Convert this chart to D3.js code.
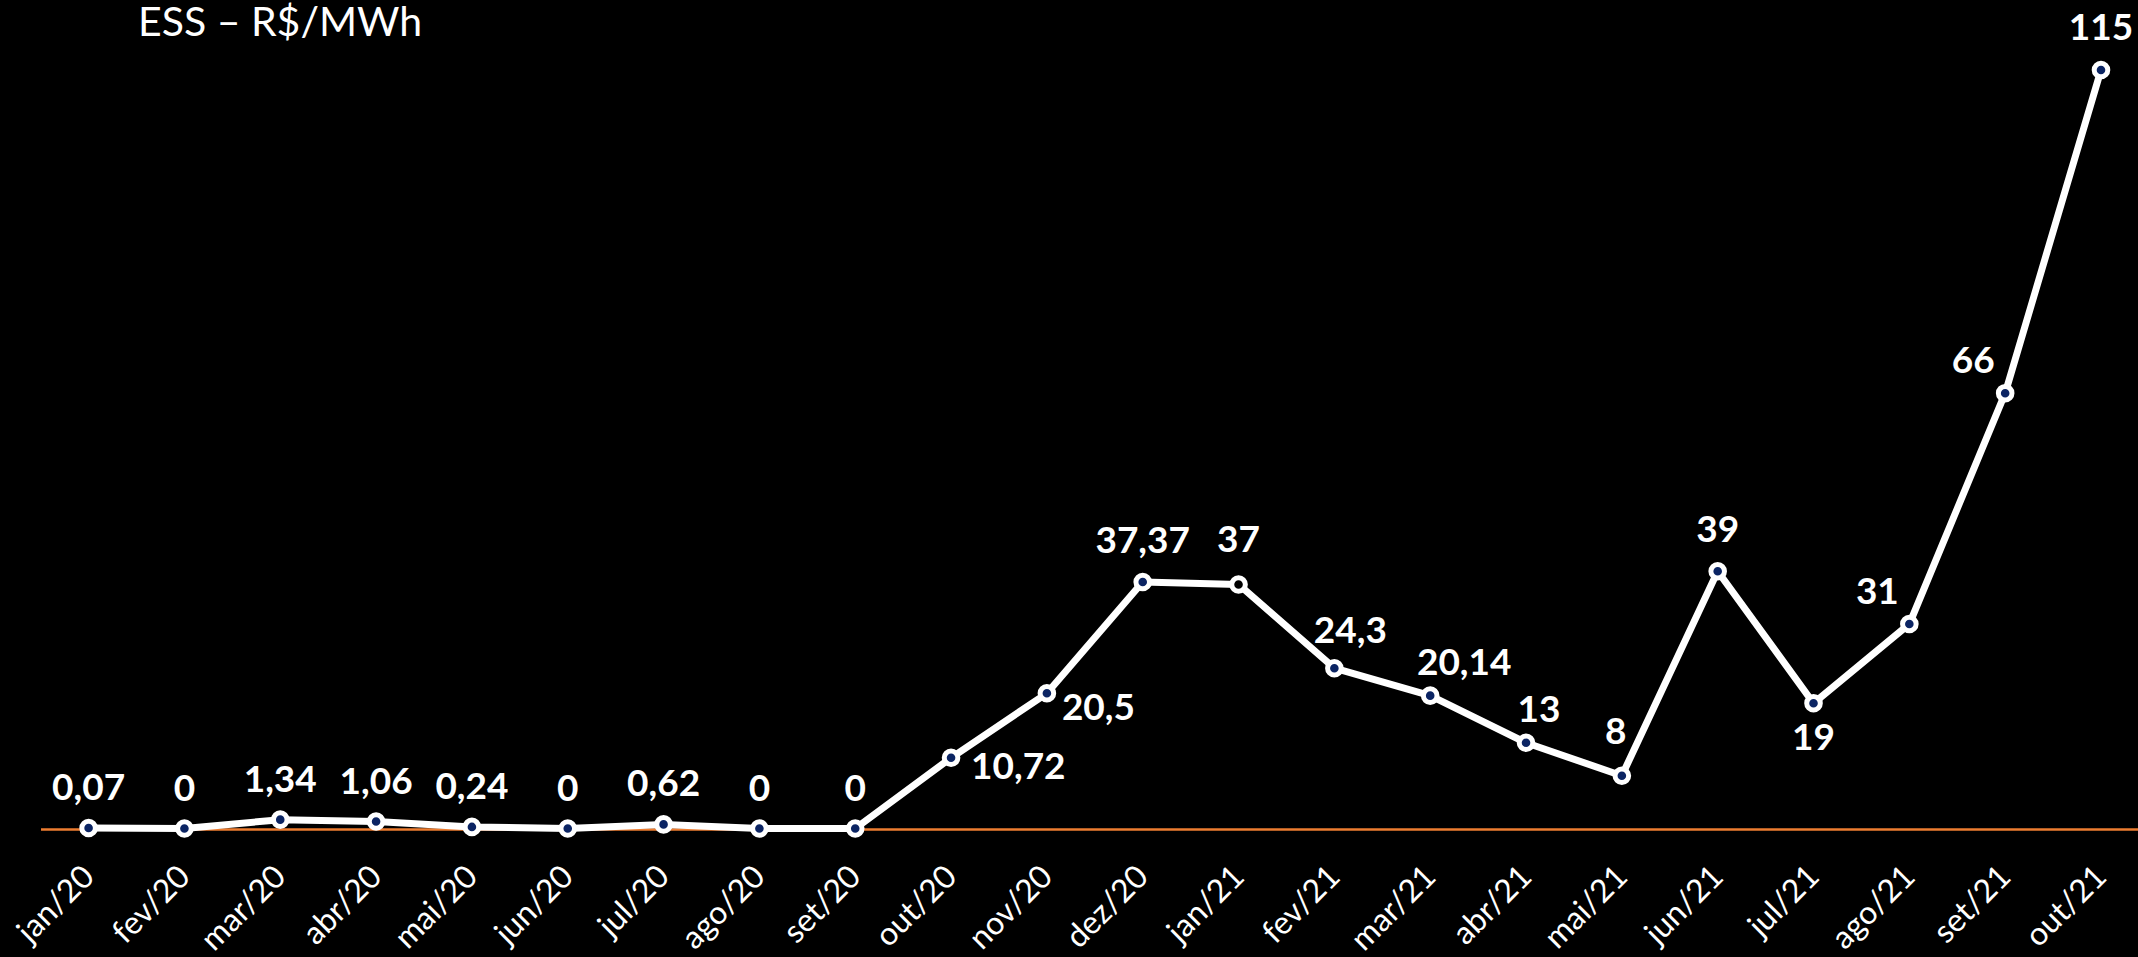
<!DOCTYPE html>
<html>
<head>
<meta charset="utf-8">
<script src="https://cdn.jsdelivr.net/npm/d3@7"></script>
<style>
  html, body { margin: 0; padding: 0; background: #000; }
  svg { display: block; }
</style>
</head>
<body>
<svg id="chart" width="2138" height="957"></svg>
<script>
// ---- data ----
const months = ["jan/20","fev/20","mar/20","abr/20","mai/20","jun/20","jul/20","ago/20","set/20","out/20","nov/20","dez/20",
                "jan/21","fev/21","mar/21","abr/21","mai/21","jun/21","jul/21","ago/21","set/21","out/21"];
const essValues = [0.07, 0, 1.34, 1.06, 0.24, 0, 0.62, 0, 0, 10.72, 20.5, 37.37,
                   37, 24.3, 20.14, 13, 8, 39, 19, 31, 66, 115];
const valueLabels = ["0,07","0","1,34","1,06","0,24","0","0,62","0","0","10,72","20,5","37,37",
                     "37","24,3","20,14","13","8","39","19","31","66","115"];
const titleText = "ESS – R$/MWh";

// label placement (offsets from each point: [dx, dy, anchor])
const labelPlacement = [
  [0,-28,"middle"],[0,-28,"middle"],[0,-28,"middle"],[0,-28,"middle"],[0,-28,"middle"],[0,-28,"middle"],
  [0,-28,"middle"],[0,-28,"middle"],[0,-28,"middle"],[20,21,"start"],[15,27,"start"],[0,-29,"middle"],
  [0,-32,"middle"],[16,-25,"middle"],[34,-21,"middle"],[13,-21,"middle"],[-6,-32,"middle"],[0,-29,"middle"],
  [0,47,"middle"],[-32,-20,"middle"],[-32,-20,"middle"],[0,-30,"middle"]
];

// ---- drawing ----
const svg = d3.select("#chart");
const x = d3.scalePoint().domain(months).range([88.6, 2101]);
const y = d3.scaleLinear().domain([0, 115]).range([828.5, 70]);

// title
svg.append("text")
  .attr("x", 138).attr("y", 36)
  .attr("fill", "#fff")
  .attr("font-family", "Lato, 'Open Sans', sans-serif")
  .attr("font-size", 41)
  .text(titleText);

// x axis (orange baseline)
svg.append("line")
  .attr("x1", 41).attr("x2", 2138)
  .attr("y1", y(0) + 1).attr("y2", y(0) + 1)
  .attr("stroke", "#ED7D31").attr("stroke-width", 2.5);

// x tick labels
const xAxis = d3.axisBottom(x).tickSize(0).tickPadding(0);
const gx = svg.append("g").attr("transform", `translate(0,${y(0)})`).call(xAxis);
gx.select(".domain").remove();
gx.selectAll(".tick text")
  .attr("fill", "#fff")
  .attr("font-family", "Lato, 'Open Sans', sans-serif")
  .attr("font-size", 32)
  .attr("text-anchor", "end")
  .attr("dy", null)
  .attr("transform", "translate(7,50) rotate(-45)")
  .attr("x", 0).attr("y", 0);

// line
const line = d3.line().x((d, i) => x(months[i])).y(d => y(d));
svg.append("path")
  .datum(essValues)
  .attr("d", line)
  .attr("fill", "none")
  .attr("stroke", "#fff")
  .attr("stroke-width", 7)
  .attr("stroke-linejoin", "round");

// markers
svg.selectAll("circle.pt")
  .data(essValues)
  .join("circle")
  .attr("class", "pt")
  .attr("cx", (d, i) => x(months[i]))
  .attr("cy", d => y(d))
  .attr("r", 6.8)
  .attr("fill", (d, i) => i === 12 ? "#000" : "#0B2463")
  .attr("stroke", "#fff")
  .attr("stroke-width", 5);

// value labels
svg.selectAll("text.val")
  .data(essValues)
  .join("text")
  .attr("class", "val")
  .attr("x", (d, i) => x(months[i]) + labelPlacement[i][0])
  .attr("y", (d, i) => y(d) + labelPlacement[i][1])
  .attr("text-anchor", (d, i) => labelPlacement[i][2])
  .attr("fill", "#fff")
  .attr("font-family", "Lato, 'Open Sans', sans-serif")
  .attr("font-weight", "bold")
  .attr("font-size", 37)
  .text((d, i) => valueLabels[i]);
</script>
</body>
</html>
